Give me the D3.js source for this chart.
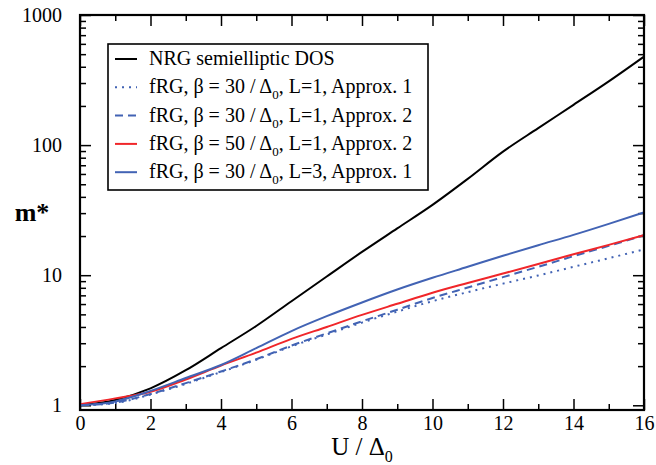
<!DOCTYPE html>
<html>
<head>
<meta charset="utf-8">
<script src="https://cdn.jsdelivr.net/npm/d3@7/dist/d3.min.js"></script>
<style>
body { margin: 0; background: #fff; }
text { font-family: "Liberation Serif", "Times New Roman", serif; fill: #000; }
</style>
</head>
<body>
<div id="chart"></div>
<script>
// U / Delta_0 sample points
var uVals = [0, 1, 2, 3, 4, 5, 6, 7, 8, 9, 10, 11, 12, 13, 14, 15, 16];

// m*
var nrgDos      = [1.0, 1.10, 1.35, 1.86, 2.75, 4.07, 6.31, 9.77, 15.1, 22.9, 34.7, 55.0, 89.1, 135, 204, 309, 479];
var frg30L1Ap1  = [1.0, 1.04, 1.21, 1.46, 1.80, 2.24, 2.84, 3.50, 4.32, 5.25, 6.31, 7.41, 8.61, 9.95, 11.6, 13.5, 15.8];
var frg30L1Ap2  = [1.0, 1.05, 1.22, 1.48, 1.82, 2.26, 2.88, 3.57, 4.42, 5.43, 6.68, 8.04, 9.66, 11.6, 14.0, 16.8, 20.3];
var frg50L1Ap2  = [1.02, 1.13, 1.27, 1.58, 2.02, 2.54, 3.24, 4.00, 4.95, 6.03, 7.33, 8.71, 10.3, 12.2, 14.5, 17.1, 20.3];
var frg30L3Ap1  = [1.0, 1.07, 1.29, 1.62, 2.04, 2.75, 3.72, 4.84, 6.17, 7.76, 9.55, 11.6, 14.1, 17.0, 20.4, 24.8, 30.4];

var xTicks = [0, 2, 4, 6, 8, 10, 12, 14, 16];
var yTicks = [1, 10, 100, 1000];

var blue = "#4263b4", red = "#f0262a";

var series = [
    { values: nrgDos,     color: "#000", dash: null,  label: ["NRG semielliptic DOS"] },
    { values: frg30L1Ap1, color: blue,   dash: "2,5", label: ["fRG, \u03b2 = 30 / \u0394", "0", ", L=1, Approx. 1"] },
    { values: frg30L1Ap2, color: blue,   dash: "8,5", label: ["fRG, \u03b2 = 30 / \u0394", "0", ", L=1, Approx. 2"] },
    { values: frg50L1Ap2, color: red,    dash: null,  label: ["fRG, \u03b2 = 50 / \u0394", "0", ", L=1, Approx. 2"] },
    { values: frg30L3Ap1, color: blue,   dash: null,  label: ["fRG, \u03b2 = 30 / \u0394", "0", ", L=3, Approx. 1"] }
];

var margin = { top: 15, right: 12, bottom: 55, left: 80 },
    width = 656 - margin.left - margin.right,
    height = 465 - margin.top - margin.bottom;

var svg = d3.select("#chart").append("svg")
    .attr("width", 656)
    .attr("height", 465);
var g = svg.append("g")
    .attr("transform", "translate(" + margin.left + "," + margin.top + ")");

var x = d3.scaleLinear().domain([0, 16]).range([0, width]);
var y = d3.scaleLog().domain([0.92, 1000]).range([height, 0]);

// minor tick values
var xMinor = d3.range(1, 16, 2);
var yMinor = [];
[1, 10, 100].forEach(function (d) {
    for (var k = 2; k <= 9; k++) yMinor.push(d * k);
});

function styleAxis(sel) {
    sel.select(".domain").remove();
    sel.selectAll("line").attr("stroke", "#000").attr("stroke-width", 1.5);
}

// bottom
g.append("g").attr("transform", "translate(0," + height + ")")
    .call(d3.axisBottom(x).tickValues(xTicks).tickSize(-11).tickPadding(20).tickFormat(d3.format("d")))
    .call(styleAxis)
    .selectAll("text").attr("font-size", 20).attr("dy", "0");
g.append("g").attr("transform", "translate(0," + height + ")")
    .call(d3.axisBottom(x).tickValues(xMinor).tickSize(-6).tickFormat(""))
    .call(styleAxis);
// top
g.append("g")
    .call(d3.axisTop(x).tickValues(xTicks).tickSize(-11).tickFormat(""))
    .call(styleAxis);
g.append("g")
    .call(d3.axisTop(x).tickValues(xMinor).tickSize(-6).tickFormat(""))
    .call(styleAxis);
// left
g.append("g")
    .call(d3.axisLeft(y).tickValues(yTicks).tickSize(-11).tickPadding(18).tickFormat(d3.format("d")))
    .call(styleAxis)
    .selectAll("text").attr("font-size", 20);
g.append("g")
    .call(d3.axisLeft(y).tickValues(yMinor).tickSize(-6).tickFormat(""))
    .call(styleAxis);
// right
g.append("g").attr("transform", "translate(" + width + ",0)")
    .call(d3.axisRight(y).tickValues(yTicks).tickSize(-11).tickFormat(""))
    .call(styleAxis);
g.append("g").attr("transform", "translate(" + width + ",0)")
    .call(d3.axisRight(y).tickValues(yMinor).tickSize(-6).tickFormat(""))
    .call(styleAxis);

// curves
var line = d3.line()
    .x(function (d) { return x(d[0]); })
    .y(function (d) { return y(d[1]); })
    .curve(d3.curveMonotoneX);

series.forEach(function (s) {
    g.append("path")
        .datum(uVals.map(function (u, i) { return [u, s.values[i]]; }))
        .attr("fill", "none")
        .attr("stroke", s.color)
        .attr("stroke-width", 2)
        .attr("stroke-dasharray", s.dash)
        .attr("d", line);
});

// frame
g.append("rect")
    .attr("width", width).attr("height", height)
    .attr("fill", "none").attr("stroke", "#000").attr("stroke-width", 2.2);

// legend
var lg = svg.append("g").attr("transform", "translate(108,44)");
lg.append("rect").attr("width", 320).attr("height", 146)
    .attr("fill", "#fff").attr("stroke", "#000").attr("stroke-width", 1.6);
series.forEach(function (s, i) {
    var yy = 15 + i * 28.3;
    lg.append("line")
        .attr("x1", 7).attr("x2", 29).attr("y1", yy).attr("y2", yy)
        .attr("stroke", s.color).attr("stroke-width", 2)
        .attr("stroke-dasharray", s.dash);
    var t = lg.append("text").attr("x", 41).attr("y", yy + 6).attr("font-size", 20);
    t.append("tspan").text(s.label[0]);
    if (s.label.length > 1) {
        t.append("tspan").attr("font-size", 13).attr("dy", 6).text(s.label[1]);
        t.append("tspan").attr("dy", -6).text(s.label[2]);
    }
});

// axis titles
var xt = svg.append("text")
    .attr("x", margin.left + width / 2).attr("y", 455)
    .attr("text-anchor", "middle").attr("font-size", 25);
xt.append("tspan").text("U / \u0394");
xt.append("tspan").attr("font-size", 16).attr("dy", 7).text("0");

svg.append("text")
    .attr("x", 32).attr("y", 221)
    .attr("text-anchor", "middle").attr("font-size", 26).attr("font-weight", "bold")
    .text("m*");
</script>
</body>
</html>
